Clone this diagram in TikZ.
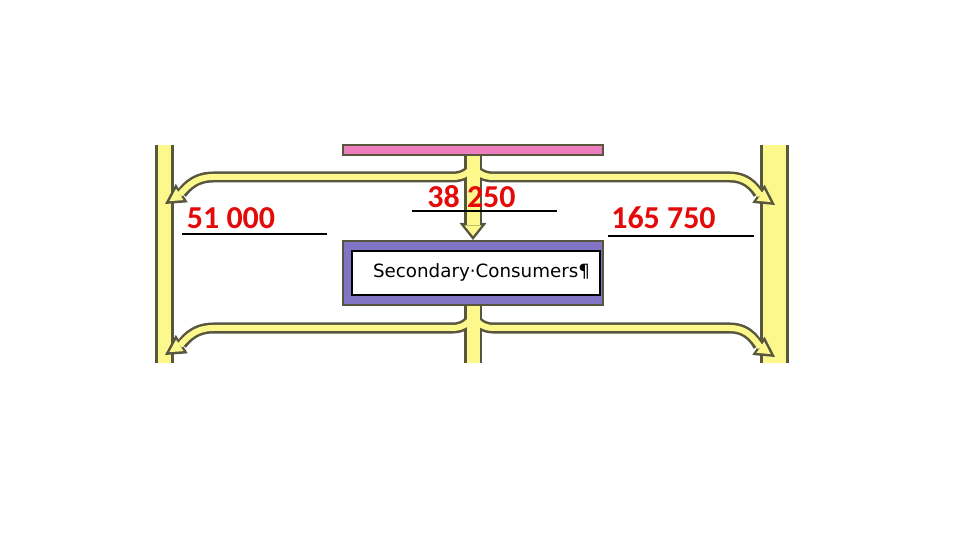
\documentclass[tikz,border=0pt]{standalone}
\usepackage{fontspec}
\setmainfont{Carlito}
\newfontfamily\tagfont{DejaVu Sans}
\usetikzlibrary{arrows.meta,positioning,backgrounds}
\definecolor{flowfill}{RGB}{252,248,140}
\definecolor{flowline}{RGB}{88,86,62}
\definecolor{pinkbar}{RGB}{238,125,190}
\definecolor{consfill}{RGB}{130,116,196}
\definecolor{numred}{RGB}{228,10,10}
\tikzset{
  mainshade/.style={draw=flowline, line width=0.45cm, -{Triangle[length=0.425cm,width=0.675cm,line width=0pt]}},
  maincore/.style={draw=flowfill, line width=0.325cm, shorten >=0.1cm, -{Triangle[length=0.2625cm,width=0.42cm,line width=0pt]}},
  stemshade/.style={draw=flowline, line width=0.45cm},
  stemcore/.style={draw=flowfill, line width=0.325cm},
  branchshade/.style={draw=flowline, line width=0.275cm, -{Triangle[length=0.5cm,width=0.55cm,line width=0pt]}},
  branchcore/.style={draw=flowfill, line width=0.15cm, shorten >=0.13cm, -{Triangle[length=0.31cm,width=0.34cm,line width=0pt]}},
  sidebar/.style={fill=flowfill, minimum height=5.45cm, inner sep=0pt},
  barrim/.style={draw=flowline, line width=0.07cm},
  levelbox/.style={draw=flowline, line width=0.05cm, minimum width=6.5cm, inner sep=0pt},
  amount/.style={text=numred, font=\fontsize{22.7}{26}\selectfont\bfseries, inner sep=0pt},
  answerline/.style={draw=black, line width=0.05cm},
}

\begin{document}
\begin{tikzpicture}[x=0.025cm, y=0.025cm]
  \useasboundingbox (0,0) rectangle (960,540);

  \node[levelbox, fill=pinkbar, minimum height=0.25cm] (primary) at (473,390) {};
  \node[levelbox, fill=consfill, minimum height=1.6cm] (secondary) at (473,267) {};
  \node[draw=black, line width=0.05cm, fill=white, minimum width=6.2cm, minimum height=1.1cm, inner sep=0pt] (secinner) at (476,267) {};
  \node[font=\tagfont\fontsize{13}{15}\selectfont, inner sep=0pt] (seclabel) at (481.5,268) {Secondary·Consumers¶};

  \coordinate (forkt) at (473,378);
  \coordinate (forkb) at (473,229);
  \coordinate (stemend) at (473,177);
  \coordinate (lt) at (165,336);
  \coordinate (lb) at (165,185);
  \coordinate (rt) at (775,335);
  \coordinate (rb) at (775,183);

  \begin{scope}[on background layer]
    % side channels
    \node[sidebar, minimum width=0.375cm] (leftbar) at (164.5,286) {};
    \node[sidebar, minimum width=0.625cm] (rightbar) at (774.5,286) {};
    \draw[barrim] (leftbar.north west) -- (leftbar.south west) (leftbar.north east) -- (leftbar.south east);
    \draw[barrim] (rightbar.north west) -- (rightbar.south west) (rightbar.north east) -- (rightbar.south east);

    % energy flows, outline first then fill
    \clip (150,177) rectangle (800,400);
    \foreach \pass in {shade,core} {
      \draw[main\pass] (primary.south) -- (secondary.north);
      \draw[stem\pass] (secondary.south) -- (stemend);
      \draw[branch\pass] (forkt) to[out=-90,in=0] ++(-20,-15) -- ++(-240,0) to[out=180,in=33] (lt);
      \draw[branch\pass] (forkt) to[out=-90,in=180] ++(20,-15) -- ++(237,0) to[out=0,in=146] (rt);
      \draw[branch\pass] (forkb) to[out=-90,in=0] ++(-20,-17) -- ++(-240,0) to[out=180,in=33] (lb);
      \draw[branch\pass] (forkb) to[out=-90,in=180] ++(20,-17) -- ++(237,0) to[out=0,in=146] (rb);
    }
  \end{scope}

  % amounts to fill in
  \node[amount] (leftamt) at (231,322) {51 000};
  \node[amount] (midamt) at (471.5,343) {38 250};
  \node[amount] (rightamt) at (663.5,322) {165 750};
  \draw[answerline] (182,306) -- (327,306);
  \draw[answerline] (412,329) -- (557,329);
  \draw[answerline] (608,304) -- (754,304);
\end{tikzpicture}
\end{document}
